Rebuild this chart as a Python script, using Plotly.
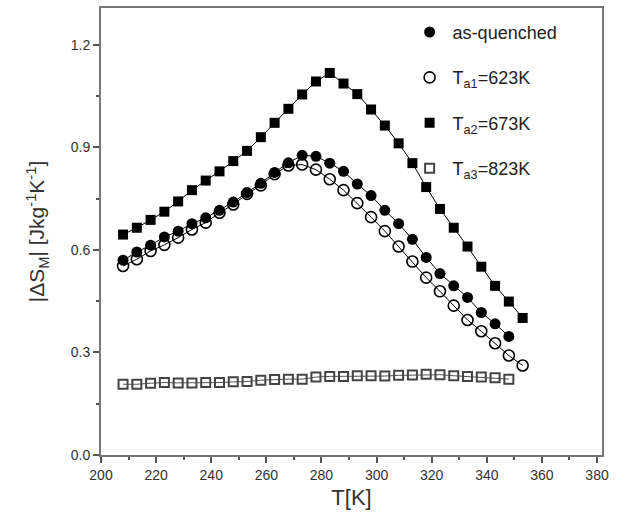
import plotly.graph_objects as go

T_full = [208 + 5 * k for k in range(30)]
T_aq = T_full[:29]
T_a3 = T_full[:29]

as_quenched = [0.570, 0.594, 0.614, 0.638, 0.655, 0.677, 0.694, 0.716, 0.740, 0.768,
               0.795, 0.827, 0.855, 0.877, 0.874, 0.854, 0.830, 0.793, 0.759, 0.716,
               0.677, 0.631, 0.578, 0.531, 0.495, 0.461, 0.417, 0.384, 0.347]
ta1_623 = [0.553, 0.573, 0.597, 0.615, 0.636, 0.660, 0.680, 0.709, 0.733, 0.764,
           0.789, 0.822, 0.847, 0.850, 0.835, 0.807, 0.775, 0.737, 0.696, 0.655,
           0.610, 0.566, 0.519, 0.479, 0.437, 0.395, 0.362, 0.327, 0.291, 0.262]
ta2_673 = [0.645, 0.665, 0.688, 0.712, 0.742, 0.775, 0.803, 0.830, 0.860, 0.890,
           0.930, 0.972, 1.013, 1.055, 1.093, 1.118, 1.087, 1.056, 1.011, 0.964,
           0.912, 0.854, 0.784, 0.720, 0.665, 0.610, 0.551, 0.495, 0.449, 0.401]
ta3_823 = [0.207, 0.207, 0.210, 0.212, 0.211, 0.211, 0.212, 0.212, 0.214, 0.215,
           0.219, 0.221, 0.222, 0.222, 0.228, 0.230, 0.230, 0.232, 0.232, 0.231,
           0.233, 0.234, 0.236, 0.235, 0.232, 0.230, 0.228, 0.226, 0.222]

names = ["as-quenched", "T<sub>a1</sub>=623K", "T<sub>a2</sub>=673K", "T<sub>a3</sub>=823K"]
x_ticks = list(range(200, 381, 20))
y_ticks = [0.0, 0.3, 0.6, 0.9, 1.2]

series = [
    (T_aq, as_quenched, dict(symbol="circle", size=11, color="black", line=dict(width=0)), "black"),
    (T_full, ta1_623, dict(symbol="circle-open", size=11, color="black", line=dict(width=1.6)), "black"),
    (T_full, ta2_673, dict(symbol="square", size=10, color="black", line=dict(width=0)), "black"),
    (T_a3, ta3_823, dict(symbol="square-open", size=9, color="#444444", line=dict(width=2)), "#555555"),
]

fig = go.Figure()
for (x, y, mk, lc), nm in zip(series, names):
    fig.add_trace(go.Scatter(x=x, y=y, mode="lines+markers", marker=mk,
                             line=dict(color=lc, width=1), showlegend=False))
for (x, y, mk, lc), nm in zip(series, names):
    fig.add_trace(go.Scatter(x=[None], y=[None], mode="markers", marker=mk, name=nm,
                             legendgroup=nm, showlegend=True))

axis_common = dict(showline=True, linecolor="#777777", linewidth=2, mirror=True,
                   ticks="outside", ticklen=6, tickwidth=1.5, tickcolor="#555555",
                   showgrid=False, zeroline=False,
                   tickfont=dict(family="Arial, Liberation Sans", size=14, color="#333333"))

fig.update_layout(
    width=631, height=528,
    margin=dict(l=101, r=29, t=6, b=73),
    plot_bgcolor="white", paper_bgcolor="white",
    font=dict(family="Arial, Liberation Sans", color="#222222"),
    xaxis=dict(range=[200, 381.8], tickvals=x_ticks,
               minor=dict(ticks="outside", dtick=10, tick0=210, ticklen=3, tickcolor="#555555"),
               title=dict(text="T[K]", font=dict(size=22, color="#333333"), standoff=8),
               **axis_common),
    yaxis=dict(range=[0, 1.308], tickvals=y_ticks, tickformat=".1f",
               minor=dict(ticks="outside", dtick=0.15, tick0=0.15, ticklen=3, tickcolor="#555555"),
               title=dict(text="|ΔS<sub>M</sub>| [Jkg<sup>-1</sup>K<sup>-1</sup>]",
                          font=dict(size=21, color="#333333"), standoff=20),
               **axis_common),
    legend=dict(x=0.61, y=0.987, xanchor="left", yanchor="top",
                font=dict(family="Arial, Liberation Sans", size=18, color="#222222"),
                bgcolor="rgba(0,0,0,0)", tracegroupgap=19, itemwidth=36),
)

fig.write_html("out.html", config={"displayModeBar": False},
               post_script="document.body.style.margin='0px';document.body.style.padding='0px';")
